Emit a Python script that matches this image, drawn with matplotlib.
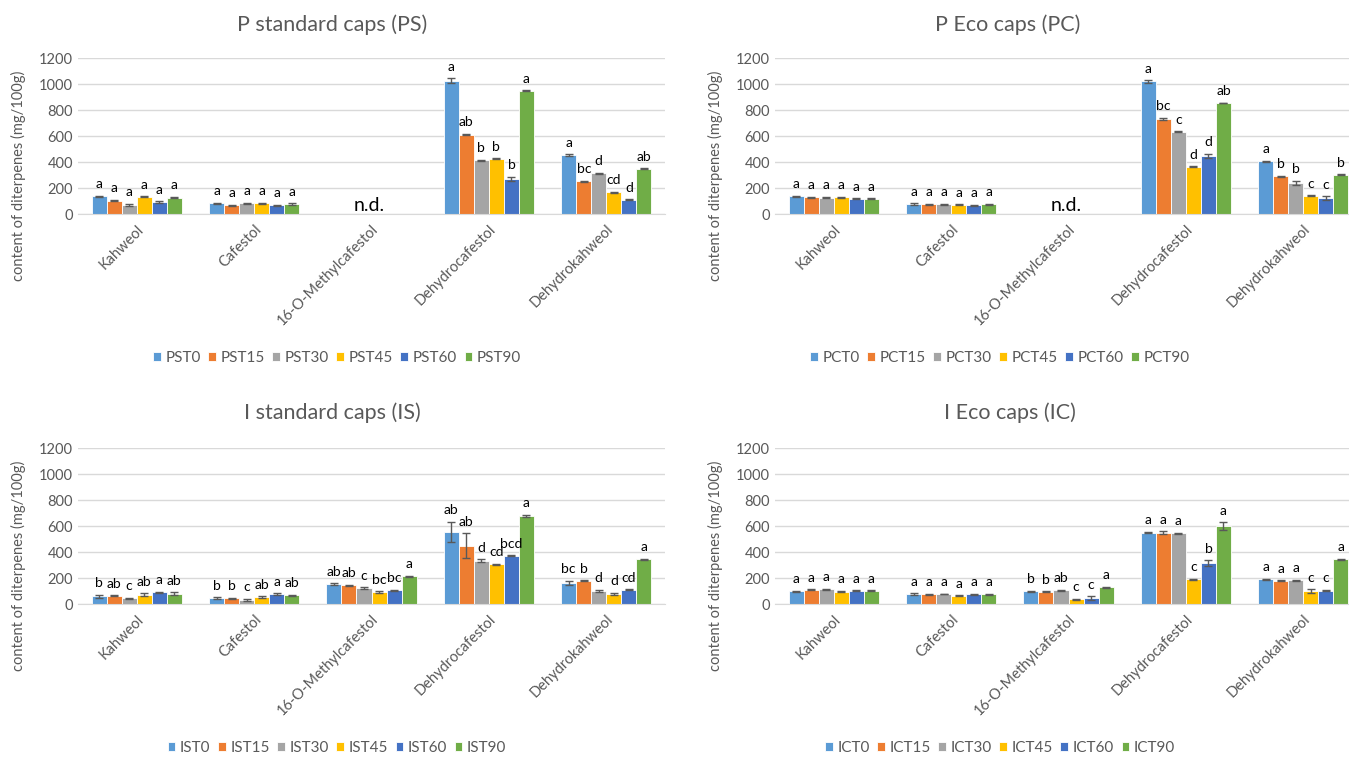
import numpy as np
import matplotlib.pyplot as plt

plt.rcParams['font.family'] = ['Lato', 'DejaVu Sans']

categories = ['Kahweol', 'Cafestol', '16-O-Methylcafestol', 'Dehydrocafestol', 'Dehydrokahweol']
colors = ['#5B9BD5', '#ED7D31', '#A5A5A5', '#FFC000', '#4472C4', '#70AD47']
times = ['T0', 'T15', 'T30', 'T45', 'T60', 'T90']

# P standard caps (PS), one row per series
ps_values = [
    [136, 82, 0, 1026, 451],
    [103, 67, 0, 610, 251],
    [69, 82, 0, 413, 315],
    [131, 82, 0, 426, 167],
    [92, 67, 0, 272, 108],
    [126, 77, 0, 949, 349],
]
ps_errors = [
    [6, 5, 0, 18, 8],
    [5, 4, 0, 5, 4],
    [8, 5, 0, 6, 4],
    [4, 4, 0, 4, 6],
    [5, 4, 0, 15, 4],
    [5, 6, 0, 4, 4],
]
ps_letters = [
    ['a', 'a', '', 'a', 'a'],
    ['a', 'a', '', 'ab', 'bc'],
    ['a', 'a', '', 'b', 'd'],
    ['a', 'a', '', 'b', 'cd'],
    ['a', 'a', '', 'b', 'd'],
    ['a', 'a', '', 'a', 'ab'],
]

# P Eco caps (PC)
pc_values = [
    [136, 77, 0, 1020, 405],
    [128, 74, 0, 731, 290],
    [126, 74, 0, 631, 238],
    [128, 72, 0, 364, 141],
    [118, 69, 0, 446, 123],
    [118, 74, 0, 854, 303],
]
pc_errors = [
    [4, 4, 0, 9, 5],
    [5, 4, 0, 11, 4],
    [6, 4, 0, 4, 16],
    [3, 4, 0, 4, 4],
    [4, 4, 0, 16, 15],
    [3, 3, 0, 3, 4],
]
pc_letters = [
    ['a', 'a', '', 'a', 'a'],
    ['a', 'a', '', 'bc', 'b'],
    ['a', 'a', '', 'c', 'b'],
    ['a', 'a', '', 'd', 'c'],
    ['a', 'a', '', 'd', 'c'],
    ['a', 'a', '', 'ab', 'b'],
]

# I standard caps (IS)
is_values = [
    [59, 46, 154, 554, 164],
    [64, 44, 146, 449, 179],
    [46, 33, 123, 333, 103],
    [72, 54, 92, 305, 79],
    [90, 77, 105, 372, 110],
    [79, 67, 213, 677, 344],
]
is_errors = [
    [12, 5, 4, 78, 15],
    [4, 4, 4, 96, 4],
    [4, 8, 6, 12, 8],
    [10, 6, 6, 4, 6],
    [4, 6, 6, 3, 4],
    [12, 4, 6, 10, 4],
]
is_letters = [
    ['b', 'b', 'ab', 'ab', 'bc'],
    ['ab', 'b', 'ab', 'ab', 'b'],
    ['c', 'c', 'c', 'd', 'd'],
    ['ab', 'ab', 'bc', 'cd', 'd'],
    ['a', 'a', 'bc', 'bcd', 'cd'],
    ['ab', 'ab', 'a', 'a', 'a'],
]

# I Eco caps (IC)
ic_values = [
    [97, 77, 97, 549, 192],
    [108, 74, 95, 549, 179],
    [113, 77, 105, 546, 182],
    [95, 64, 36, 190, 100],
    [103, 74, 46, 315, 103],
    [103, 74, 128, 597, 344],
]
ic_errors = [
    [6, 4, 4, 6, 4],
    [4, 4, 4, 10, 4],
    [4, 3, 3, 4, 6],
    [6, 3, 4, 3, 12],
    [3, 3, 12, 20, 5],
    [4, 3, 6, 30, 3],
]
ic_letters = [
    ['a', 'a', 'b', 'a', 'a'],
    ['a', 'a', 'b', 'a', 'a'],
    ['a', 'a', 'ab', 'a', 'a'],
    ['a', 'a', 'c', 'c', 'c'],
    ['a', 'a', 'c', 'b', 'c'],
    ['a', 'a', 'a', 'a', 'a'],
]

W, H = 1349, 757
fig = plt.figure(figsize=(W / 100, H / 100), dpi=100)
grey_txt = '#595959'


def draw_panel(ax_box, values, errors, letters, prefix, title, title_xy, ylab_x, legend_xy, nd=False):
    x0, ytop, x1, ybot = ax_box
    ax = fig.add_axes([x0 / W, 1 - ybot / H, (x1 - x0) / W, (ybot - ytop) / H])
    x = np.arange(len(categories))
    bw = 0.128
    for i in range(len(values)):
        pos = x + (i - 2.5) * bw
        v = np.array(values[i])
        e = np.array(errors[i])
        ax.bar(pos, v, bw, color=colors[i], edgecolor='white', linewidth=0.6,
               label=prefix + times[i], zorder=2)
        mask = v > 0
        ax.errorbar(pos[mask], v[mask], yerr=e[mask], fmt='none', ecolor='#595959',
                    elinewidth=1, capsize=3, capthick=1, zorder=3)
        for j in range(len(categories)):
            if letters[i][j]:
                ax.annotate(letters[i][j], (pos[j], v[j] + e[j]), xytext=(0, 4),
                            textcoords='offset points', ha='center', va='bottom',
                            fontsize=10, color='black')
    if nd:
        ax.text(1.98, 2, 'n.d.', ha='center', va='bottom', fontsize=14, color='black')
    ax.set_xlim(-0.5, len(categories) - 0.5)
    ax.set_ylim(0, 1200)
    ax.set_yticks(np.arange(0, 1201, 200))
    ax.yaxis.grid(True, color='#D9D9D9', linewidth=1, zorder=0)
    ax.set_axisbelow(True)
    for s in ['top', 'right', 'left']:
        ax.spines[s].set_visible(False)
    ax.spines['bottom'].set_color('#D9D9D9')
    ax.tick_params(length=0, labelsize=10.5, labelcolor=grey_txt)
    ax.tick_params(axis='x', pad=6)
    ax.set_xticks(x)
    ax.set_xticklabels(categories, rotation=45, ha='right', rotation_mode='anchor')
    fig.text(title_xy[0] / W, 1 - title_xy[1] / H, title, ha='center', va='center',
             fontsize=15.5, color=grey_txt)
    fig.text(ylab_x / W, 1 - (ytop + 118) / H, 'content of diterpenes (mg/100g)',
             rotation=90, ha='center', va='center', fontsize=10.5, color=grey_txt)
    ax.legend(loc='center', bbox_to_anchor=(legend_xy[0] / W, 1 - legend_xy[1] / H),
              bbox_transform=fig.transFigure, ncol=6, frameon=False, fontsize=11,
              labelcolor=grey_txt, handlelength=0.5, handleheight=0.5,
              handletextpad=0.3, columnspacing=0.5)
    return ax


draw_panel((78, 58, 665, 214), ps_values, ps_errors, ps_letters, 'PS',
           'P standard caps (PS)', (332, 25), 18, (337, 358), nd=True)
draw_panel((775, 58, 1362, 214), pc_values, pc_errors, pc_letters, 'PC',
           'P Eco caps (PC)', (1008, 25), 715, (1000, 358), nd=True)
draw_panel((78, 448, 665, 604), is_values, is_errors, is_letters, 'IS',
           'I standard caps (IS)', (332, 413), 18, (337, 748))
draw_panel((775, 448, 1362, 604), ic_values, ic_errors, ic_letters, 'IC',
           'I Eco caps (IC)', (1010, 413), 715, (1000, 748))

fig.savefig('out.png', dpi=100)
